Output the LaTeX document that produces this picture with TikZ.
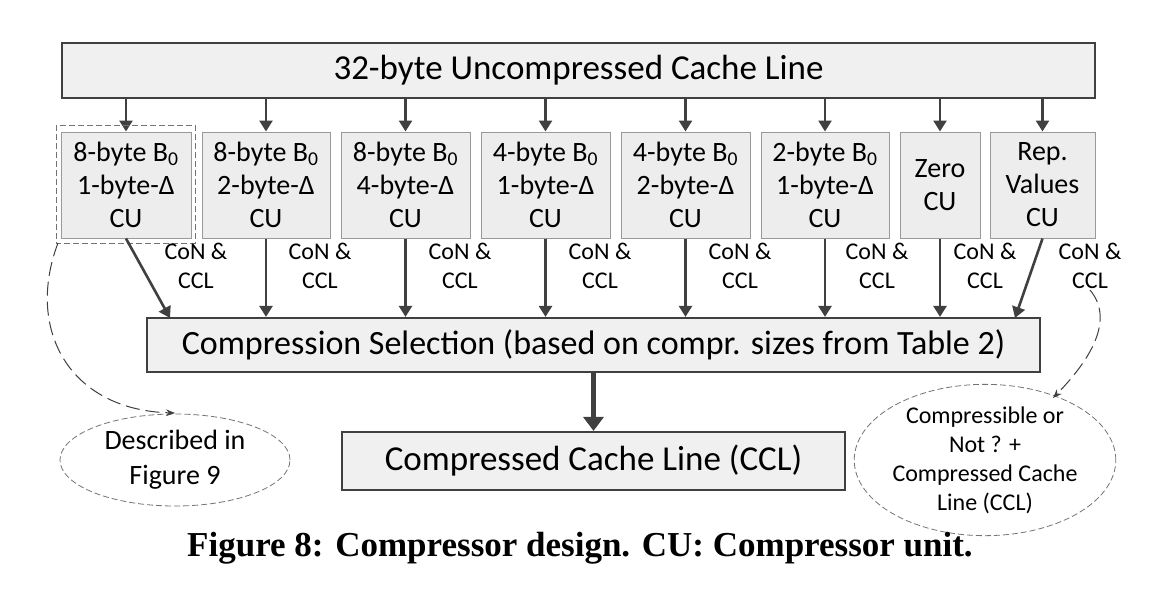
\documentclass[tikz,border=0pt]{standalone}
\usepackage{fontspec}
\setmainfont{Carlito}
\newfontfamily\capfont{Liberation Serif}
\usetikzlibrary{arrows.meta,shapes.geometric}
\begin{document}
\begin{tikzpicture}[x=1pt,y=-1pt,
  big/.style={draw=black!75,line width=2.2pt,fill=black!6,inner sep=0pt},
  cu/.style={draw=black!40,line width=1pt,fill=black!7,align=center,font=\fontsize{28}{33}\selectfont,inner sep=0pt},
  arr/.style={draw=black!75,line width=2.6pt,-{Triangle[length=11pt,width=13pt]}},
  lbl/.style={align=center,font=\fontsize{24}{29}\selectfont},
  ell/.style={ellipse,draw=black!55,dash pattern=on 6pt off 3pt,line width=0.8pt,align=center,inner sep=0pt},
  dc/.style={draw=black!75,line width=1pt,dash pattern=on 14pt off 6pt,-{Stealth[length=9pt]}}]
\useasboundingbox (0,0) rectangle (1158,600);
\node[big,minimum width=1033pt,minimum height=55pt,font=\fontsize{35}{38}\selectfont] (top) at (578.5,70.5) {32-byte Uncompressed Cache Line};
\foreach \n/\a/\b/\t in {1/61/191/{8-byte B\textsubscript{0}\\1-byte-Δ\\CU},
  2/202/330/{8-byte B\textsubscript{0}\\2-byte-Δ\\CU},
  3/341/470/{8-byte B\textsubscript{0}\\4-byte-Δ\\CU},
  4/481/610/{4-byte B\textsubscript{0}\\1-byte-Δ\\CU},
  5/621/750/{4-byte B\textsubscript{0}\\2-byte-Δ\\CU},
  6/761/889/{2-byte B\textsubscript{0}\\1-byte-Δ\\CU},
  7/900/980/{Zero\\CU},
  8/990/1095/{Rep.\\Values\\CU}}{
  \pgfmathsetmacro\w{\b-\a}\pgfmathsetmacro\c{(\a+\b)/2}
  \node[cu,minimum width=\w pt,minimum height=106pt] (c\n) at (\c,185) {\t};
  \draw[arr] (top.south -| c\n) -- (c\n.north);
}
\draw[black!55,line width=1pt,dash pattern=on 6pt off 3pt] (56,125) rectangle (195,243);
\node[big,minimum width=893pt,minimum height=54pt,font=\fontsize{34}{38}\selectfont] (sel) at (593.5,345) {Compression Selection (based on compr. sizes from Table 2)};
\foreach \n/\x in {1/196,2/320,3/460,4/600,5/740,6/877,7/985,8/1090}
  \node[lbl] (l\n) at (\x,266) {CoN \&\\CCL};
\draw[arr] (c1.south) -- (170,318);
\foreach \n in {2,...,7} \draw[arr] (c\n.south) -- (c\n.south |- sel.north);
\draw[arr] (c8.south) -- (1015,318);
\node[big,minimum width=503pt,minimum height=58pt,font=\fontsize{35}{38}\selectfont] (ccl) at (593.5,461) {Compressed Cache Line (CCL)};
\draw[draw=black!75,line width=5pt,-{Triangle[length=14pt,width=20pt]}] (sel.south) -- (ccl.north);
\node[ell,minimum width=230pt,minimum height=92pt,font=\fontsize{28}{35}\selectfont] (e1) at (175,460) {Described in\\Figure 9};
\node[ell,minimum width=260pt,minimum height=138pt,font=\fontsize{24}{29}\selectfont] (e2) at (985,460) {Compressible or\\Not ? +\\Compressed Cache\\Line (CCL)};
\coordinate (s1) at (58,243);
\coordinate (s2) at (1090,290);
\draw[dc] (s1) .. controls (25,330) and (70,410) .. (175,413);
\draw[dc] (s2) .. controls (1115,320) and (1090,360) .. (1053,398);
\node[font=\capfont\bfseries\fontsize{35}{38}\selectfont] (cap) at (580,548) {Figure 8: Compressor design. CU: Compressor unit.};
\end{tikzpicture}
\end{document}
